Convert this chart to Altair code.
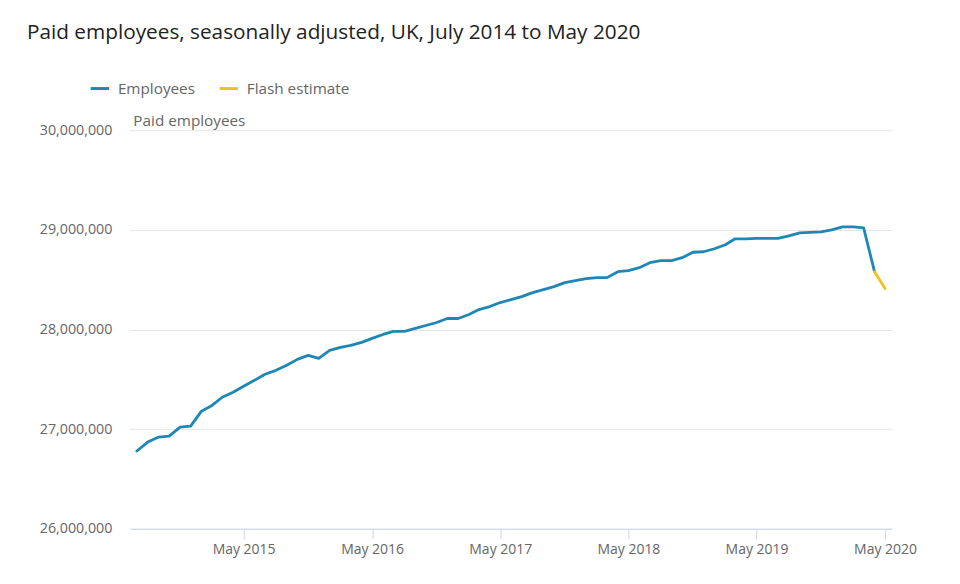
import altair as alt
import pandas as pd

# Months July 2014 .. April 2020 (employees) and April..May 2020 (flash estimate)
emp_months = pd.date_range("2014-07-01", "2020-04-01", freq="MS").strftime("%Y-%m-%dT00:00:00").tolist()
emp_values = [
    26780000, 26870000, 26920000, 26930000, 27020000, 27030000,  # Jul-Dec 2014
    27180000, 27240000, 27320000, 27370000, 27430000, 27490000,  # Jan-Jun 2015
    27550000, 27590000, 27640000, 27700000, 27740000, 27710000,  # Jul-Dec 2015
    27790000, 27820000, 27840000, 27870000, 27910000, 27950000,  # Jan-Jun 2016
    27980000, 27980000, 28010000, 28040000, 28070000, 28110000,  # Jul-Dec 2016
    28110000, 28150000, 28200000, 28230000, 28270000, 28300000,  # Jan-Jun 2017
    28330000, 28370000, 28400000, 28430000, 28470000, 28490000,  # Jul-Dec 2017
    28510000, 28520000, 28520000, 28580000, 28590000, 28620000,  # Jan-Jun 2018
    28670000, 28690000, 28690000, 28720000, 28775000, 28780000,  # Jul-Dec 2018
    28810000, 28850000, 28910000, 28910000, 28915000, 28915000,  # Jan-Jun 2019
    28915000, 28940000, 28970000, 28975000, 28980000, 29000000,  # Jul-Dec 2019
    29030000, 29030000, 29020000, 28580000,                      # Jan-Apr 2020
]
flash_months = ["2020-04-01T00:00:00", "2020-05-01T00:00:00"]
flash_values = [28580000, 28410000]

series_names = ["Employees", "Flash estimate"]
series_colors = ["#1f87b6", "#f0c020"]

df = pd.concat([
    pd.DataFrame({"date": emp_months, "value": emp_values, "series": series_names[0]}),
    pd.DataFrame({"date": flash_months, "value": flash_values, "series": series_names[1]}),
])

tick_dates = [alt.DateTime(year=y, month=5, date=1) for y in range(2015, 2021)]

FONT = "Open Sans"

chart = alt.Chart(df).mark_line(strokeWidth=2.8, strokeCap="round", strokeJoin="round").encode(
    x=alt.X(
        "date:T",
        scale=alt.Scale(domain=[alt.DateTime(year=2014, month=6, date=11),
                                alt.DateTime(year=2020, month=5, date=21)]),
        axis=alt.Axis(
            values=tick_dates, format="%b %Y", title=None, grid=False,
            domainColor="#ccd6eb", domainWidth=1, tickColor="#ccd6eb", tickSize=10,
            labelFont=FONT, labelFontSize=14, labelColor="#666666", labelPadding=4,
        ),
    ),
    y=alt.Y(
        "value:Q",
        scale=alt.Scale(domain=[26000000, 30000000], nice=False, zero=False),
        axis=alt.Axis(
            values=[26000000, 27000000, 28000000, 29000000, 30000000], format=",d",
            title="Paid employees", titleAngle=0, titleX=3, titleY=-5, titleAlign="left",
            titleBaseline="alphabetic", titleFont=FONT, titleFontSize=15.3, titleFontWeight="normal",
            titleColor="#666666",
            domain=False, ticks=False, grid=True, gridColor="#e6e6e6", gridWidth=1,
            labelFont=FONT, labelFontSize=14.3, labelColor="#666666", labelPadding=18,
        ),
    ),
    color=alt.Color(
        "series:N",
        scale=alt.Scale(domain=series_names, range=series_colors),
        legend=alt.Legend(
            title=None, orient="none", legendX=-41, legendY=-53, direction="horizontal",
            symbolType="stroke", symbolSize=340, symbolStrokeWidth=3,
            labelFont=FONT, labelFontSize=15.3, labelColor="#666666", labelOffset=7,
            columnPadding=17,
        ),
    ),
).properties(
    width=763,
    height=399,
    title=alt.TitleParams(
        "Paid employees, seasonally adjusted, UK, July 2014 to May 2020",
        anchor="start", frame="group", font=FONT, fontSize=20.8, fontWeight="normal",
        color="#222222", dx=-103, dy=-29,
    ),
    autosize=alt.AutoSizeParams(type="none"),
    padding={"left": 122, "top": 122, "right": 60, "bottom": 45},
).configure_view(stroke=None)

chart.save("out.html", embed_options={"renderer": "svg", "actions": False})
